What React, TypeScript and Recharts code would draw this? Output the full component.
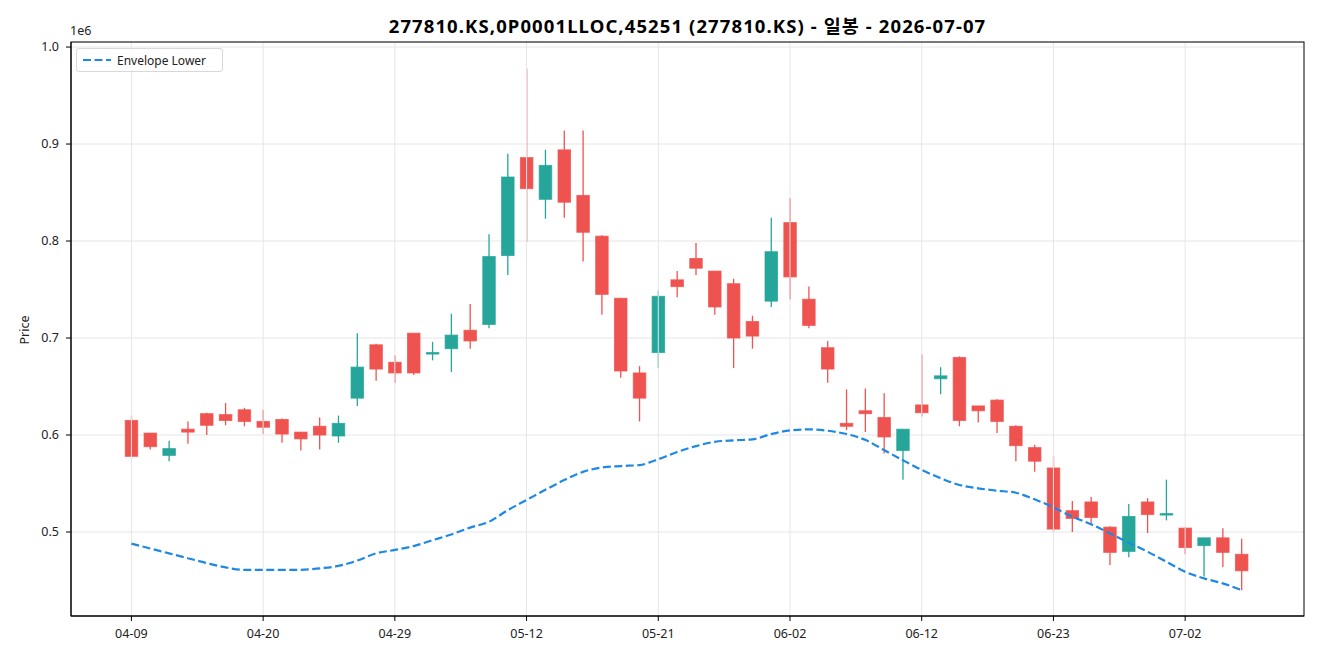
import React from "react";
import {
  ComposedChart,
  Bar,
  Line,
  XAxis,
  YAxis,
  CartesianGrid,
  ReferenceLine,
} from "recharts";

const dates = [
  "04-09", "04-10", "04-13", "04-14", "04-15", "04-16", "04-17", "04-20", "04-21", "04-22",
  "04-23", "04-24", "04-27", "04-28", "04-29", "04-30", "05-04", "05-06", "05-07", "05-08",
  "05-11", "05-12", "05-13", "05-14", "05-15", "05-18", "05-19", "05-20", "05-21", "05-22",
  "05-26", "05-27", "05-28", "05-29", "06-01", "06-02", "06-04", "06-05", "06-08", "06-09",
  "06-10", "06-11", "06-12", "06-15", "06-16", "06-17", "06-18", "06-19", "06-22", "06-23",
  "06-24", "06-25", "06-26", "06-29", "06-30", "07-01", "07-02", "07-03", "07-06", "07-07",
];

// prices in thousands of won
const open = [
  615, 602, 579, 606, 622, 621, 626, 614, 616, 603, 609, 599, 638, 693, 675, 705, 684, 689, 708, 714,
  785, 886, 843, 894, 847, 805, 741, 664, 685, 760, 782, 769, 756, 717, 738, 819, 740, 690, 612, 625,
  618, 584, 631, 658, 680, 630, 636, 609, 587, 566, 522, 531, 505, 480, 531, 518, 504, 486, 494, 477,
];
const close = [
  578, 588, 586, 603, 610, 615, 614, 608, 601, 596, 600, 612, 670, 668, 664, 664, 685, 703, 697, 784,
  866, 854, 878, 840, 809, 745, 666, 638, 743, 753, 772, 732, 700, 702, 789, 763, 713, 668, 609, 622,
  598, 606, 623, 661, 615, 625, 614, 589, 573, 503, 514, 515, 479, 516, 518, 519, 484, 494, 479, 460,
];
const high = [
  620, 602, 594, 614, 623, 633, 628, 626, 617, 603, 618, 620, 705, 694, 682, 705, 696, 725, 735, 807,
  890, 978, 894, 914, 914, 806, 741, 671, 749, 769, 798, 769, 761, 723, 824, 844, 753, 697, 647, 648,
  643, 606, 683, 670, 681, 630, 637, 610, 590, 578, 532, 536, 506, 529, 535, 554, 505, 494, 504, 493,
];
const low = [
  578, 585, 573, 591, 600, 610, 609, 601, 592, 584, 585, 592, 630, 656, 654, 662, 677, 665, 689, 710,
  765, 799, 823, 824, 779, 724, 659, 614, 669, 742, 765, 724, 669, 689, 732, 740, 710, 654, 605, 603,
  581, 554, 619, 642, 609, 613, 602, 573, 562, 500, 500, 508, 466, 474, 499, 512, 477, 454, 464, 440,
];
const envLower = [
  488, 483, 478, 473, 468, 463.5, 461, 461, 461, 461, 462.5, 465, 470.5, 478, 481.5, 485.5, 491.5, 497.5, 504.5, 510.5,
  522.5, 533, 543.5, 553.5, 562, 566.5, 568, 569, 575, 582.5, 588.5, 593, 594.5, 595.5, 601, 604.8, 605.8, 604.4, 601, 595,
  584.5, 574, 564, 555.5, 548.5, 545, 542.6, 540.5, 533.7, 525.4, 515.8, 508, 498.6, 489, 479.7, 469.4, 459, 452.2, 447, 440.2,
];

const yTicks = [500000, 600000, 700000, 800000, 900000, 1000000];
const xTickIdx = [0, 7, 14, 21, 28, 35, 42, 49, 56];

const UP = "#26a69a";
const DOWN = "#ef5350";
const FONT = "'Noto Sans', 'Noto Sans CJK KR', sans-serif";

const data = dates.map((d, i) => ({
  d,
  open: open[i] * 1000,
  close: close[i] * 1000,
  high: high[i] * 1000,
  low: low[i] * 1000,
  env: envLower[i] * 1000,
}));

const BODY_W = 12.5;

function Candle(props: any) {
  const { x, y, width, height, payload } = props;
  if (!payload) return null;
  const top = Math.min(y, y + height);
  const bot = Math.max(y, y + height);
  const span = payload.high - payload.low || 1;
  const yOf = (v: number) => top + ((payload.high - v) / span) * (bot - top);
  const up = payload.close >= payload.open;
  const color = up ? UP : DOWN;
  const cx = x + width / 2;
  const bTop = yOf(Math.max(payload.open, payload.close));
  const bBot = yOf(Math.min(payload.open, payload.close));
  const h = Math.max(bBot - bTop, 1.5);
  return (
    <g>
      <line x1={cx} x2={cx} y1={top} y2={bot} stroke={color} strokeWidth={1.3} />
      <rect
        x={cx - BODY_W / 2}
        y={bTop}
        width={BODY_W}
        height={h}
        fill={color}
        stroke={color}
        strokeOpacity={0.75}
        strokeWidth={1}
      />
    </g>
  );
}

export default function App() {
  return (
    <div
      style={{
        position: "absolute",
        left: 0,
        top: 0,
        width: 1320,
        height: 660,
        background: "#fff",
        fontFamily: FONT,
      }}
    >
      <div
        style={{
          position: "absolute",
          left: 71,
          width: 1233,
          top: 12,
          textAlign: "center",
          fontSize: 18.5,
          letterSpacing: 1.1,
          fontWeight: 700,
          color: "#000",
          lineHeight: "28px",
        }}
      >
        277810.KS,0P0001LLOC,45251 (277810.KS) - 일봉 - 2026-07-07
      </div>
      <div style={{ position: "absolute", left: 70, top: 22, fontSize: 12.5, color: "#222", lineHeight: "18px" }}>
        1e6
      </div>
      <div
        style={{
          position: "absolute",
          left: 24,
          top: 330,
          transform: "translate(-50%, -50%) rotate(-90deg)",
          fontSize: 12.5,
          color: "#222",
        }}
      >
        Price
      </div>

      <ComposedChart
        width={1320}
        height={660}
        data={data}
        margin={{ top: 42, right: 16, bottom: 0, left: 0 }}
      >
        <CartesianGrid vertical={false} stroke="#e6e6e6" strokeWidth={1} />
        {xTickIdx.map((i) => (
          <ReferenceLine key={i} x={dates[i]} stroke="#e6e6e6" strokeWidth={1} />
        ))}
        <XAxis
          dataKey="d"
          type="category"
          interval={6}
          padding={{ left: 51, right: 53 }}
          height={44}
          tickSize={5}
          tickMargin={8}
          tick={{ fontSize: 12.5, fill: "#222", fontFamily: FONT }}
          axisLine={{ stroke: "#000" }}
          tickLine={{ stroke: "#000" }}
        />
        <YAxis
          type="number"
          domain={[413400, 1005200]}
          allowDataOverflow
          ticks={yTicks}
          tickFormatter={(v: number) => (v / 1e6).toFixed(1)}
          width={71}
          tickSize={5}
          tickMargin={7}
          tick={{ fontSize: 12.5, fill: "#222", fontFamily: FONT }}
          axisLine={{ stroke: "#000" }}
          tickLine={{ stroke: "#000" }}
        />
        <Bar
          dataKey={(d: any) => [d.low, d.high]}
          barSize={13}
          shape={Candle}
          isAnimationActive={false}
        />
        <Line
          type="monotone"
          dataKey="env"
          stroke="#1e88e5"
          strokeWidth={2.2}
          strokeDasharray="8 3.5"
          dot={false}
          activeDot={false}
          isAnimationActive={false}
        />
      </ComposedChart>

      <svg
        width={1320}
        height={660}
        style={{ position: "absolute", left: 0, top: 0, pointerEvents: "none" }}
      >
        <rect x={71} y={42} width={1233} height={574} fill="none" stroke="#000" strokeWidth={1} />
      </svg>

      <div
        style={{
          position: "absolute",
          left: 76,
          top: 48,
          width: 145,
          height: 22,
          border: "1px solid #d8d8d8",
          borderRadius: 3,
          background: "rgba(255,255,255,0.85)",
          display: "flex",
          alignItems: "center",
          fontSize: 12,
          color: "#222",
        }}
      >
        <svg width={40} height={22}>
          <line x1={6} x2={34} y1={11} y2={11} stroke="#1e88e5" strokeWidth={2.2} strokeDasharray="8 3.5" />
        </svg>
        <span>Envelope Lower</span>
      </div>
    </div>
  );
}
